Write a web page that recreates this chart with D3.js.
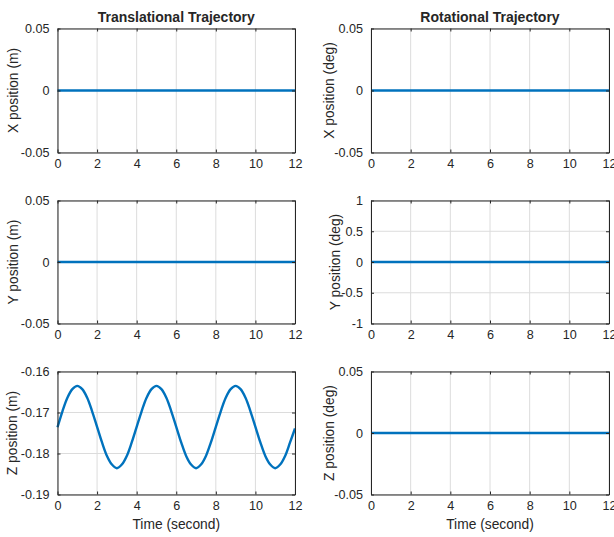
<!DOCTYPE html>
<html>
<head>
<meta charset="utf-8">
<script src="https://cdn.jsdelivr.net/npm/d3@7/dist/d3.min.js"></script>
<style>
  body { margin: 0; background: #fff; }
  text { font-family: "Liberation Sans", Arial, Helvetica, sans-serif; fill: #262626; }
</style>
</head>
<body>
<script>
// sampled time (s) for the z trajectory
var zTime = [0, 0.25, 0.5, 0.75, 1, 1.25, 1.5, 1.75, 2, 2.25, 2.5, 2.75, 3, 3.25, 3.5, 3.75,
  4, 4.25, 4.5, 4.75, 5, 5.25, 5.5, 5.75, 6, 6.25, 6.5, 6.75, 7, 7.25, 7.5, 7.75,
  8, 8.25, 8.5, 8.75, 9, 9.25, 9.5, 9.75, 10, 10.25, 10.5, 10.75, 11, 11.25, 11.5, 11.75, 12];
var zPos = [-0.1736, -0.1697, -0.1664, -0.1643, -0.1635, -0.1643, -0.1664, -0.1697,
  -0.1735, -0.1773, -0.1806, -0.1827, -0.1836, -0.1827, -0.1806, -0.1773,
  -0.1735, -0.1697, -0.1664, -0.1643, -0.1635, -0.1643, -0.1664, -0.1697,
  -0.1735, -0.1773, -0.1806, -0.1827, -0.1836, -0.1827, -0.1806, -0.1773,
  -0.1735, -0.1697, -0.1664, -0.1643, -0.1635, -0.1643, -0.1664, -0.1697,
  -0.1735, -0.1773, -0.1806, -0.1827, -0.1836, -0.1827, -0.1806, -0.1773, -0.1739];

// flat trajectories (all zero)
var flatTime = [0, 12];
var flatPos = [0, 0];

var xTicks = [0, 2, 4, 6, 8, 10, 12];
var smallTicks = [-0.05, 0, 0.05];
var smallTickLabels = ["-0.05", "0", "0.05"];
var zTicks = [-0.19, -0.18, -0.17, -0.16];
var zTickLabels = ["-0.19", "-0.18", "-0.17", "-0.16"];
var degTicks = [-1, -0.5, 0, 0.5, 1];
var degTickLabels = ["-1", "-0.5", "0", "0.5", "1"];

var width = 614, height = 537;
var cols = [[57.5, 295], [371, 609]];
var rows = [[28.5, 152.5], [200.5, 323.5], [371.5, 494.5]];
var blue = "#0072BD";

var panels = [
  { col: 0, row: 0, t: flatTime, v: flatPos, dom: [-0.05, 0.05], ticks: smallTicks, labels: smallTickLabels, ylab: "X position (m)", lOff: 44, title: "Translational Trajectory" },
  { col: 0, row: 1, t: flatTime, v: flatPos, dom: [-0.05, 0.05], ticks: smallTicks, labels: smallTickLabels, ylab: "Y position (m)", lOff: 44 },
  { col: 0, row: 2, t: zTime, v: zPos, dom: [-0.19, -0.16], ticks: zTicks, labels: zTickLabels, ylab: "Z position (m)", lOff: 45, xlab: "Time (second)" },
  { col: 1, row: 0, t: flatTime, v: flatPos, dom: [-0.05, 0.05], ticks: smallTicks, labels: smallTickLabels, ylab: "X position (deg)", lOff: 42, title: "Rotational Trajectory" },
  { col: 1, row: 1, t: flatTime, v: flatPos, dom: [-1, 1], ticks: degTicks, labels: degTickLabels, ylab: "Y position (deg)", lOff: 36 },
  { col: 1, row: 2, t: flatTime, v: flatPos, dom: [-0.05, 0.05], ticks: smallTicks, labels: smallTickLabels, ylab: "Z position (deg)", lOff: 42, xlab: "Time (second)" }
];

var svg = d3.select("body").append("svg")
    .attr("width", width)
    .attr("height", height);

panels.forEach(function(p) {
  var xr = cols[p.col], yr = rows[p.row];
  var x = d3.scaleLinear().domain([0, 12]).range(xr);
  var y = d3.scaleLinear().domain(p.dom).range([yr[1], yr[0]]);
  var g = svg.append("g");

  // grid
  g.append("g").selectAll("line").data(xTicks).enter().append("line")
      .attr("x1", d => x(d)).attr("x2", d => x(d))
      .attr("y1", yr[0]).attr("y2", yr[1])
      .attr("stroke", "#dcdcdc").attr("stroke-width", 1);
  g.append("g").selectAll("line").data(p.ticks).enter().append("line")
      .attr("x1", xr[0]).attr("x2", xr[1])
      .attr("y1", d => y(d)).attr("y2", d => y(d))
      .attr("stroke", "#dcdcdc").attr("stroke-width", 1);

  // data line
  var line = d3.line()
      .x((d, i) => x(p.t[i]))
      .y(d => y(d))
      .curve(d3.curveCatmullRom);
  g.append("path")
      .attr("d", line(p.v))
      .attr("fill", "none")
      .attr("stroke", blue)
      .attr("stroke-width", 2.4);

  // axes (inward ticks, mirrored on top/right)
  var bottom = d3.axisBottom(x).tickValues(xTicks).tickSizeInner(-3).tickSizeOuter(0).tickPadding(7);
  var top = d3.axisTop(x).tickValues(xTicks).tickSizeInner(-3).tickSizeOuter(0).tickFormat("");
  var left = d3.axisLeft(y).tickValues(p.ticks).tickSizeInner(-3).tickSizeOuter(0).tickPadding(8)
      .tickFormat((d, i) => p.labels[i]);
  var right = d3.axisRight(y).tickValues(p.ticks).tickSizeInner(-3).tickSizeOuter(0).tickFormat("");

  var ax = [
    g.append("g").attr("transform", "translate(0," + yr[1] + ")").call(bottom),
    g.append("g").attr("transform", "translate(0," + yr[0] + ")").call(top),
    g.append("g").attr("transform", "translate(" + xr[0] + ",0)").call(left),
    g.append("g").attr("transform", "translate(" + xr[1] + ",0)").call(right)
  ];
  ax.forEach(function(a) {
    a.selectAll(".domain").attr("stroke", "#262626").attr("stroke-width", 1);
    a.selectAll(".tick line").attr("stroke", "#262626");
    a.selectAll("text").style("font-size", "12.6px").attr("fill", "#262626")
      .style("font-family", "'Liberation Sans', Arial, sans-serif");
  });

  // y label
  g.append("text")
      .attr("transform", "translate(" + (xr[0] - p.lOff) + "," + ((yr[0] + yr[1]) / 2) + ")rotate(-90)")
      .attr("text-anchor", "middle")
      .attr("dy", "0.35em")
      .style("font-size", "13.8px")
      .text(p.ylab);

  if (p.title) {
    g.append("text")
        .attr("x", (xr[0] + xr[1]) / 2)
        .attr("y", yr[0] - 7)
        .attr("text-anchor", "middle")
        .style("font-size", "14px")
        .style("font-weight", "bold")
        .text(p.title);
  }
  if (p.xlab) {
    g.append("text")
        .attr("x", (xr[0] + xr[1]) / 2)
        .attr("y", yr[1] + 34)
        .attr("text-anchor", "middle")
        .style("font-size", "13.8px")
        .text(p.xlab);
  }
});
</script>
</body>
</html>
